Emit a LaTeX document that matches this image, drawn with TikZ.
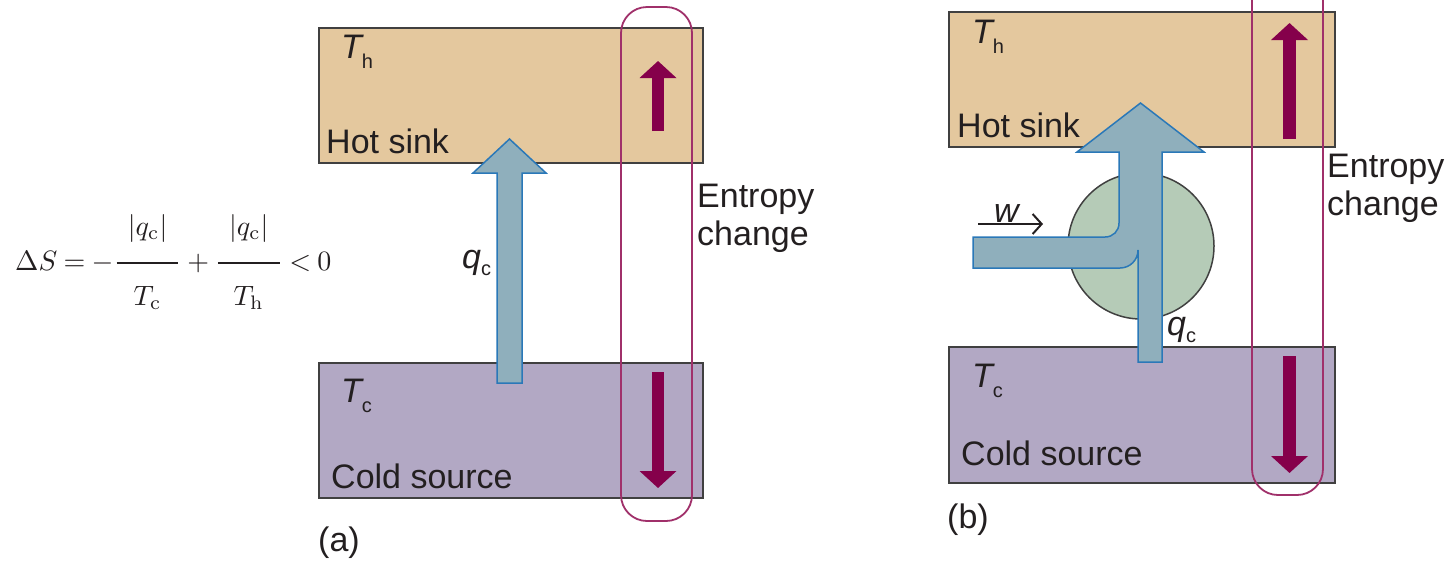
\documentclass[tikz,border=0pt]{standalone}
\usepackage{fontspec}
\setsansfont{Liberation Sans}
\usetikzlibrary{arrows.meta}

\definecolor{hotfill}{HTML}{E4C89E}
\definecolor{coldfill}{HTML}{B2A8C4}
\definecolor{flowfill}{HTML}{8FAFBC}
\definecolor{flowline}{HTML}{2A78B8}
\definecolor{entropy}{HTML}{85004B}
\definecolor{entropyline}{HTML}{A0306A}
\definecolor{enginefill}{HTML}{B5CBB7}
\definecolor{boxline}{HTML}{404040}
\definecolor{ink}{HTML}{231F20}

% small upright lowered subscript for the sans labels
\newcommand\lowsub[2][10pt]{\raisebox{-#1}{\fontsize{20}{20}\selectfont\upshape #2}}
% fraction with a padded bar and opened-up numerator/denominator (set at 10pt, scaled up)
\newcommand\padfrac[1]{\frac{\hspace{4pt}\raisebox{5.7pt}{$|q_{\mathrm{c}}|$}\hspace{4pt}}{\raisebox{-5.7pt}{$T_{\mathrm{#1}}$}}}

\tikzset{
  reservoir/.style={draw=boxline, line width=1.8pt, rectangle, inner sep=0pt,
    anchor=north west},
  lbl/.style={font=\fontsize{34}{38}\selectfont\sffamily, text=ink, inner sep=0pt,
    anchor=base west, align=left},
  flow/.style={fill=flowfill, draw=flowline, line width=1.5pt, line join=miter},
  frame/.style={draw=entropyline, line width=1.8pt, rounded corners=26pt},
  uparrow/.style={draw=entropy, line width=12.5pt, -{Triangle[length=17pt,width=36pt]}},
  engine/.style={circle, draw=boxline, line width=1.5pt, fill=enginefill, inner sep=0pt},
}

\begin{document}
\begin{tikzpicture}[x=1pt,y=-1pt]
\useasboundingbox (0,0) rectangle (1450,566);
\clip (0,0) rectangle (1450,566);

% ---------------- (a): heat flowing uphill on its own ----------------
\node[reservoir, fill=hotfill, minimum width=384pt, minimum height=135pt] (hotA) at (318,27) {};
\node[reservoir, fill=coldfill, minimum width=384pt, minimum height=135pt] (coldA) at (318,362) {};

\filldraw[flow] (497,383) -- (497,173) -- (473,173) -- (509.5,139) -- (546,173)
  -- (522,173) -- (522,383) -- cycle;

\draw[frame] (621,7) rectangle (692,521);
\draw[uparrow] (658,131) -- (658,61);
\draw[uparrow] (658,372) -- (658,488);

\node[lbl] (ThA) at (341,58) {\itshape T\lowsub{h}};
\node[lbl] (hotAtext) at (326,153) {Hot sink};
\node[lbl] (TcA) at (341,402) {\itshape T\lowsub{c}};
\node[lbl] (coldAtext) at (331,488) {Cold source};
\node[lbl] (qA) at (462,268) {\itshape q\lowsub[7pt]{c}};
\node[lbl] (entA) at (697,245) {Entropy\\change};
\node[lbl] (capA) at (318,551) {(a)};

\node[inner sep=0pt, anchor=base west, text=ink] (eq) at (15,270)
  {\scalebox{2.8}{$\thickmuskip=4mu\medmuskip=3.5mu
   \displaystyle \Delta S = -\padfrac{c} + \padfrac{h} < 0$}};

% ---------------- (b): heat pumped uphill by work ----------------
\node[reservoir, fill=hotfill, minimum width=386pt, minimum height=135pt] (hotB) at (948,11) {};
\node[reservoir, fill=coldfill, minimum width=386pt, minimum height=136pt] (coldB) at (948,346) {};

\node[engine, minimum size=146pt] (engine) at (1141,246) {};

\filldraw[flow] (1138,362) -- (1138,250)
  .. controls (1138,260) and (1130,268) .. (1120,268)
  -- (973,268) -- (973,237) -- (1105,237)
  .. controls (1113,237) and (1119,231) .. (1119,223)
  -- (1119,152) -- (1077,152) -- (1140.5,103) -- (1204,152) -- (1162,152)
  -- (1162,362) -- cycle;

\draw[frame] (1252,-40) rectangle (1323,495);
\draw[uparrow] (1289.5,139) -- (1289.5,23);
\draw[uparrow] (1289.5,356) -- (1289.5,473);

\node[lbl] (ThB) at (972,43) {\itshape T\lowsub{h}};
\node[lbl] (hotBtext) at (957,137) {Hot sink};
\node[lbl] (TcB) at (972,387) {\itshape T\lowsub{c}};
\node[lbl] (coldBtext) at (961,465) {Cold source};
\node[lbl] (qB) at (1167,335) {\itshape q\lowsub[7pt]{c}};
\node[lbl] (wB) at (994,222) {\itshape w};
\coordinate (wstart) at (978,224);
\coordinate (wend) at (1043,224);
\draw[draw=ink, line width=2pt, -{Straight Barb[length=9pt,width=20pt]}] (wstart) -- (wend);
\node[lbl] (entB) at (1327,215) {Entropy\\change};
\node[lbl] (capB) at (947,528) {(b)};
\end{tikzpicture}
\end{document}
